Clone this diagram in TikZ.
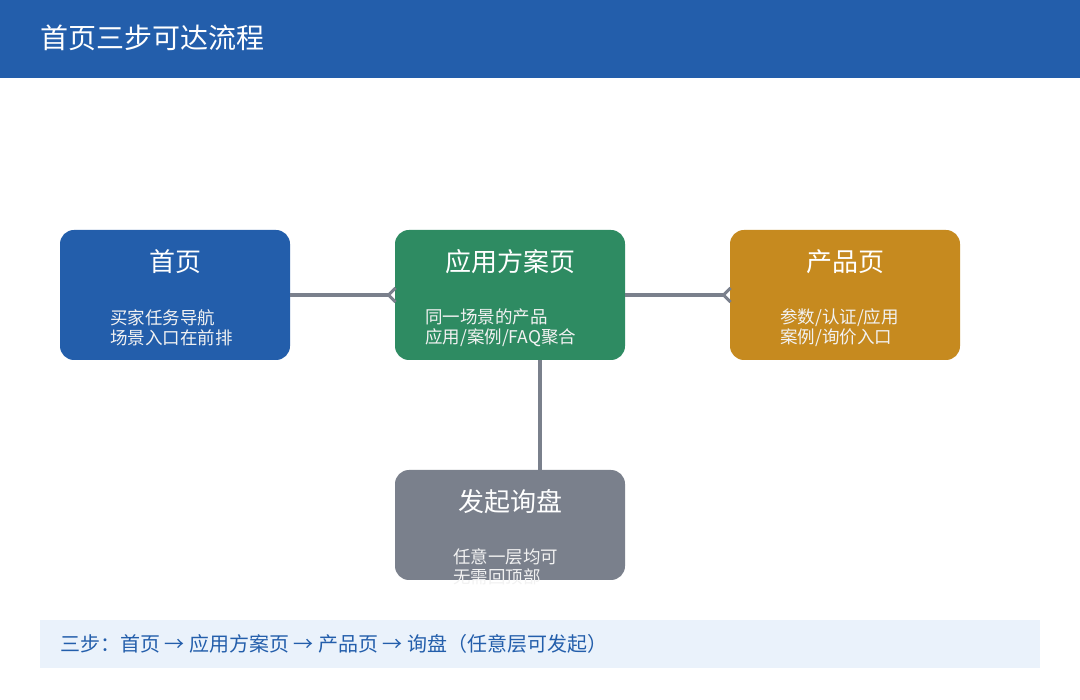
\documentclass[tikz,border=0pt]{standalone}
\usepackage{fontspec}
\setmainfont{Noto Sans CJK SC}
\usetikzlibrary{arrows.meta}
\definecolor{hdr}{HTML}{235EAB}
\definecolor{grn}{HTML}{2E8B62}
\definecolor{gld}{HTML}{C68A1F}
\definecolor{gry}{HTML}{7A808C}
\definecolor{ftr}{HTML}{EAF2FB}
\begin{document}
\begin{tikzpicture}[x=1pt,y=-1pt,
  box/.style={rounded corners=14pt,inner sep=0pt},
  ttl/.style={text=white,font=\fontsize{26}{30}\selectfont,anchor=center},
  sub/.style={text=white!90!gray,font=\fontsize{17.5}{20}\selectfont,anchor=west,align=left,inner sep=0pt},
  conn/.style={draw=gry,line width=4.5pt},
  tip/.style={-{Straight Barb[reversed,length=7pt,width=14pt,line width=3pt]}}]
\useasboundingbox (0,0) rectangle (1080,700);
\fill[white] (0,0) rectangle (1080,700);
\fill[hdr] (0,0) rectangle (1080,78);
\node[text=white,font=\fontsize{28}{32}\selectfont,anchor=west,inner sep=0pt] (title) at (40,38) {首页三步可达流程};
\path[box,fill=hdr] (60,230) rectangle (290,360) node[pos=0.5,inner sep=0pt] (home) {};
\path[box,fill=grn] (395,230) rectangle (625,360) node[pos=0.5,inner sep=0pt] (app) {};
\path[box,fill=gld] (730,230) rectangle (960,360) node[pos=0.5,inner sep=0pt] (prod) {};
\path[box,fill=gry] (395,470) rectangle (625,580) node[pos=0.5,inner sep=0pt] (ask) {};
\coordinate (homeE) at (290,295);
\coordinate (appW) at (397,295);
\coordinate (appE) at (625,295);
\coordinate (prodW) at (732,295);
\coordinate (appS) at (540,360);
\coordinate (askN) at (540,470);
\draw[conn,tip] (homeE) -- (appW);
\draw[conn,tip] (appE) -- (prodW);
\draw[conn] (appS) -- (askN);
\node[ttl] (homeT) at (175,262) {首页};
\node[sub] (homeS) at (110,328) {买家任务导航\\场景入口在前排};
\node[ttl] (appT) at (510,262) {应用方案页};
\node[sub] (appS2) at (425,328) {同一场景的产品\\应用/案例/FAQ聚合};
\node[ttl] (prodT) at (845,262) {产品页};
\node[sub] (prodS) at (780,328) {参数/认证/应用\\案例/询价入口};
\node[ttl] (askT) at (510,502) {发起询盘};
\node[sub] (askS) at (453,567) {任意一层均可\\无需回顶部};
\fill[ftr] (40,620) rectangle (1040,668);
\node[text=hdr,font=\fontsize{20}{24}\selectfont,anchor=west,inner sep=0pt] (foot) at (60,644) {三步：首页 → 应用方案页 → 产品页 → 询盘（任意层可发起）};
\end{tikzpicture}
\end{document}
